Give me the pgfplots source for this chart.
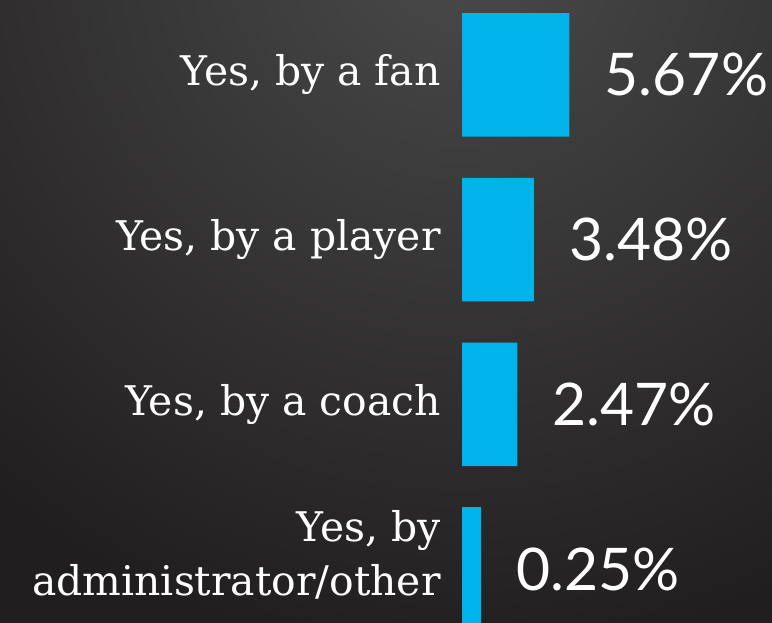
\documentclass[border=0pt]{standalone}
\usepackage{fontspec}
\setmainfont{DejaVu Serif}
\newfontfamily\valfont{Lato}
\usepackage{pgfplots}
\pgfplotsset{compat=1.18}
\definecolor{bg}{HTML}{211E1F}
\definecolor{bgtop}{HTML}{4A4A4A}
\definecolor{barblue}{HTML}{00B3EA}

\begin{document}
\begin{tikzpicture}
\path[use as bounding box] (0,0) rectangle (386bp,311.5bp);
% dark background, lighter towards the top
\begin{scope}
  \clip (0,0) rectangle (386bp,311.5bp);
  \fill[bg] (0,0) rectangle (386bp,311.5bp);
  \shade[inner color=bgtop, outer color=bg] (230bp,340bp) circle (360bp);
\end{scope}
\begin{axis}[
  at={(231bp,0bp)}, anchor=south west,
  width=155bp, height=311.5bp, scale only axis,
  xbar stacked, bar width=0.75,
  xmin=0, xmax=19.04,
  ymin=-0.328, ymax=3.455,
  axis line style={draw=none},
  major tick length=0pt,
  xtick=\empty,
  ytick={0,1,2,3},
  yticklabels={{Yes, by\\administrator/other\rule[-16bp]{0pt}{0pt}},{Yes, by a coach},{Yes, by a player},{Yes, by a fan}},
  yticklabel style={font=\fontsize{20.5}{27}\selectfont, text=white,
    align=right, anchor=east, inner sep=0pt, xshift=-10.5bp},
]
% flat base segment so the smallest bar stays visible, as in the source graphic
\addplot[fill=barblue, draw=none] coordinates {(0.93,0) (0.93,1) (0.93,2) (0.93,3)};
% stacked labels sit mid-segment: shift them by half the bar length (8.141bp per unit)
\addplot[fill=barblue, draw=none, point meta=explicit symbolic,
  visualization depends on={rawx \as \barval},
  nodes near coords,
  nodes near coords style={font=\valfont\fontsize{29.5}{31}\selectfont,
    text=white, anchor=west, inner sep=0pt, xshift={17.5bp+4.07bp*\barval}}]
  coordinates {(0.25,0) [0.25\%] (2.47,1) [2.47\%] (3.48,2) [3.48\%] (5.67,3) [5.67\%]};
\end{axis}
\end{tikzpicture}
\end{document}
